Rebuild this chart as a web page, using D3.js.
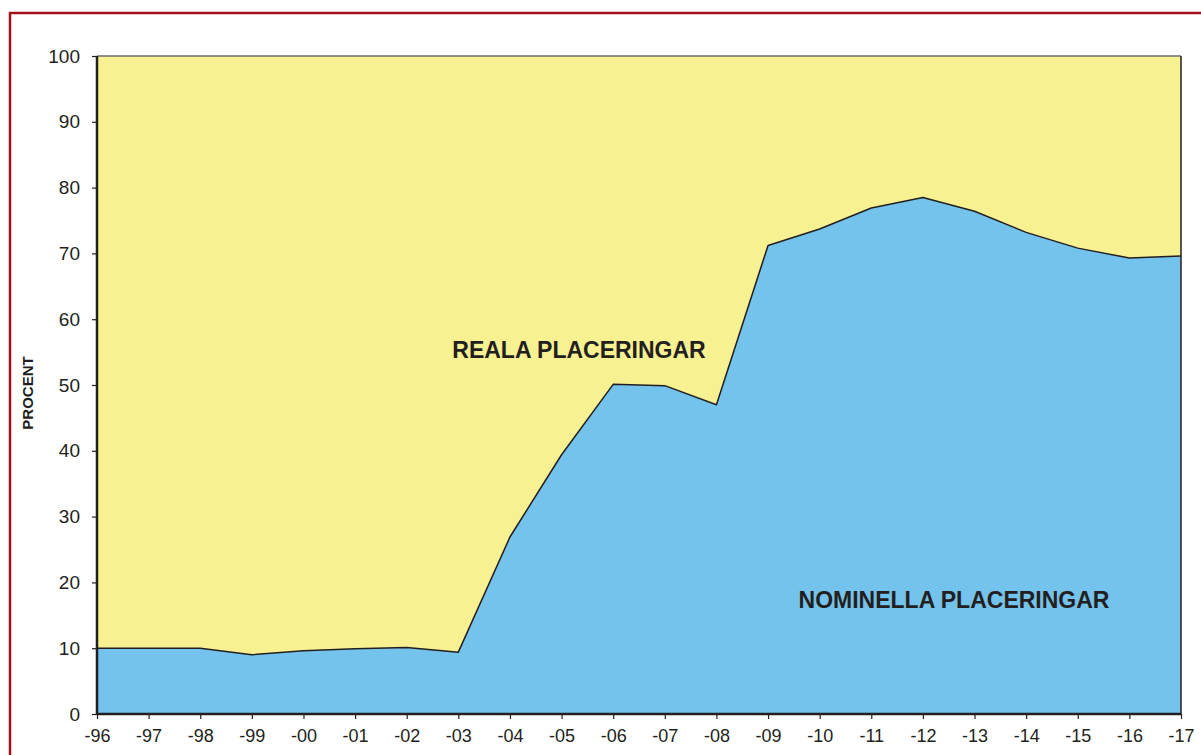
<!DOCTYPE html>
<meta charset="utf-8">
<style>
body, html {
    margin: 0px;
    padding: 0px;
    background: #fff;
    overflow: hidden;
}
text {
    font-family: "Liberation Sans", Arial, sans-serif;
    fill: #231f20;
}
</style>
<svg width="1201" height="755"></svg>
<script src="https://cdn.jsdelivr.net/npm/d3@7"></script>
<script>

// years along the bottom
var years = ["-96","-97","-98","-99","-00","-01","-02","-03","-04","-05","-06",
             "-07","-08","-09","-10","-11","-12","-13","-14","-15","-16","-17"];

// share of nominal placements (percent); the rest is real placements
var nominal = [10.0, 10.0, 10.0, 9.0, 9.6, 9.9, 10.1, 9.4, 26.9, 39.4, 50.1,
               49.9, 47.0, 71.2, 73.7, 76.9, 78.5, 76.4, 73.2, 70.8, 69.3, 69.6];

var yTicks = [0, 10, 20, 30, 40, 50, 60, 70, 80, 90, 100];

var labelReal = "REALA PLACERINGAR",
    labelNominal = "NOMINELLA PLACERINGAR",
    yTitle = "PROCENT";

var pLeft = 97, pRight = 1181, pTop = 56, pBottom = 714;

var svg = d3.select("svg");

// dark red frame, runs off the right and bottom edge
svg.append("rect")
    .attr("x", 10).attr("y", 13)
    .attr("width", 1300).attr("height", 900)
    .attr("fill", "none")
    .attr("stroke", "#a3101c")
    .attr("stroke-width", 2.5);

var x = d3.scalePoint()
    .domain(years)
    .range([pLeft, pRight]);

var y = d3.scaleLinear()
    .domain([0, 100])
    .range([pBottom, pTop]);

var data = years.map(function(d, i) { return { year: d, v: nominal[i] }; });

// real placements fill the rest up to 100
var areaReal = d3.area()
    .x(function(d) { return x(d.year); })
    .y0(function(d) { return y(d.v); })
    .y1(function() { return y(100); });

var areaNominal = d3.area()
    .x(function(d) { return x(d.year); })
    .y0(y(0))
    .y1(function(d) { return y(d.v); });

var line = d3.line()
    .x(function(d) { return x(d.year); })
    .y(function(d) { return y(d.v); });

svg.append("path").datum(data)
    .attr("d", areaReal)
    .attr("fill", "#f7f191");

svg.append("path").datum(data)
    .attr("d", areaNominal)
    .attr("fill", "#74c3ec");

svg.append("path").datum(data)
    .attr("d", line)
    .attr("fill", "none")
    .attr("stroke", "#231f20")
    .attr("stroke-width", 1.5)
    .attr("stroke-linejoin", "round");

// frame of the plot: grey top, dark right
svg.append("line")
    .attr("x1", pLeft).attr("x2", pRight)
    .attr("y1", pTop).attr("y2", pTop)
    .attr("stroke", "#6d6e71").attr("stroke-width", 1.5);
svg.append("line")
    .attr("x1", pRight).attr("x2", pRight)
    .attr("y1", pTop).attr("y2", pBottom)
    .attr("stroke", "#231f20").attr("stroke-width", 1.5);

// axes
var yAxis = d3.axisLeft(y)
    .tickValues(yTicks)
    .tickSize(5)
    .tickPadding(12);

var xAxis = d3.axisBottom(x)
    .tickSize(5)
    .tickPadding(10);

var gy = svg.append("g")
    .attr("transform", "translate(" + pLeft + ",0)")
    .call(yAxis);

var gx = svg.append("g")
    .attr("transform", "translate(0," + pBottom + ")")
    .call(xAxis);

[gx, gy].forEach(function(g) {
    g.select(".domain")
        .attr("stroke", "#231f20")
        .attr("stroke-width", 2.5);
    g.selectAll(".tick line")
        .attr("stroke", "#231f20")
        .attr("stroke-width", 1.2);
    g.selectAll("text")
        .attr("fill", "#231f20")
        .style("font-family", "'Liberation Sans', Arial, sans-serif");
});
gy.select(".domain").attr("d", "M0," + pBottom + "V" + pTop);
gx.select(".domain").attr("d", "M" + pLeft + ",0H" + pRight);

gy.selectAll("text").style("font-size", "19px");
gx.selectAll("text").style("font-size", "18px");

// y title
svg.append("text")
    .attr("transform", "translate(33,393) rotate(-90)")
    .attr("text-anchor", "middle")
    .style("font-size", "15px")
    .style("font-weight", "bold")
    .text(yTitle);

// series labels inside the areas
svg.append("text")
    .attr("x", 579).attr("y", 358)
    .attr("text-anchor", "middle")
    .style("font-size", "23px")
    .style("font-weight", "bold")
    .text(labelReal);

svg.append("text")
    .attr("x", 954).attr("y", 608)
    .attr("text-anchor", "middle")
    .style("font-size", "23px")
    .style("font-weight", "bold")
    .text(labelNominal);

</script>
